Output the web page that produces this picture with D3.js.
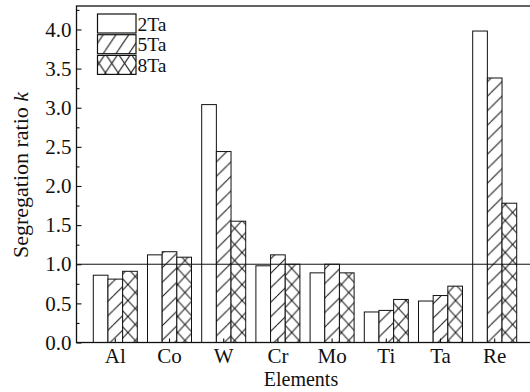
<!DOCTYPE html>
<html>
<head>
<meta charset="utf-8">
<script src="https://cdn.jsdelivr.net/npm/d3@7"></script>
<style>
    body { margin: 0; background: #fff; }
    svg { display: block; }
    svg text { font-family: "Liberation Serif", "DejaVu Serif", serif !important; fill: #111; }
</style>
</head>
<body>
<div id="graphic"></div>
<script>
// Chart data
var elements = ['Al', 'Co', 'W', 'Cr', 'Mo', 'Ti', 'Ta', 'Re'];
var seriesNames = ['2Ta', '5Ta', '8Ta'];
var ta2 = [0.86, 1.12, 3.04, 0.98, 0.89, 0.39, 0.53, 3.98];
var ta5 = [0.81, 1.16, 2.44, 1.12, 1.00, 0.41, 0.60, 3.38];
var ta8 = [0.91, 1.09, 1.55, 1.00, 0.89, 0.55, 0.72, 1.78];
var yTicks = [0, 0.5, 1, 1.5, 2, 2.5, 3, 3.5, 4];

var WIDTH = 530, HEIGHT = 392;
var FONT = '"Liberation Serif", "DejaVu Serif", serif';

/*
 * Render the graphic.
 */
var renderGraphic = function(config) {
    var margins = {
        top: 6,
        right: -4,
        bottom: 49.5,
        left: 76.5
    };

    var chartWidth = config['width'] - margins['left'] - margins['right'];
    var chartHeight = config['height'] - margins['top'] - margins['bottom'];

    var containerElement = d3.select(config['container']);
    containerElement.html('');

    var svg = containerElement.append('svg')
        .attr('width', config['width'])
        .attr('height', config['height'])
        .style('font-family', FONT);

    var defs = svg.append('defs');

    var chartElement = svg.append('g')
        .attr('transform', 'translate(' + margins['left'] + ',' + margins['top'] + ')');

    var rows = elements.map(function(el, i) {
        return { name: el, values: [ta2[i], ta5[i], ta8[i]] };
    });

    // Scales
    var xScale = d3.scaleBand()
        .domain(elements)
        .range([11.7, 445.3])
        .paddingInner(0.188)
        .paddingOuter(0.094);

    var xSeries = d3.scaleBand()
        .domain(seriesNames)
        .range([0, xScale.bandwidth()]);

    var yScale = d3.scaleLinear()
        .domain([0, 4.3])
        .range([chartHeight, 0]);

    // Patterns: hatch "/" and cross "X", anchored to each bar
    var makePattern = function(id, kind, px, py, w, h) {
        var p = defs.append('pattern')
            .attr('id', id)
            .attr('patternUnits', 'userSpaceOnUse')
            .attr('x', px)
            .attr('y', py)
            .attr('width', w)
            .attr('height', h);
        p.append('rect').attr('width', w).attr('height', h).attr('fill', '#fff');
        var lines = [];
        if (kind == 'hatch') {
            lines = [[0, h, w, 0], [-w, h, 0, 0], [w, h, 2 * w, 0]];
        } else if (kind == 'cross') {
            lines = [[0, 0, w, h], [0, h, w, 0]];
        }
        p.selectAll('line')
            .data(lines)
            .enter().append('line')
            .attr('x1', function(d) { return d[0]; })
            .attr('y1', function(d) { return d[1]; })
            .attr('x2', function(d) { return d[2]; })
            .attr('y2', function(d) { return d[3]; })
            .attr('stroke', '#111')
            .attr('stroke-width', 1);
    };

    var kinds = ['none', 'hatch', 'cross'];

    // Bars
    var groups = chartElement.selectAll('.group')
        .data(rows)
        .enter().append('g')
        .attr('class', 'group')
        .attr('transform', function(d) { return 'translate(' + xScale(d.name) + ',0)'; });

    groups.selectAll('rect')
        .data(function(d) {
            return d.values.map(function(v, j) { return { el: d.name, s: j, value: v }; });
        })
        .enter().append('rect')
        .attr('x', function(d) { return xSeries(seriesNames[d.s]); })
        .attr('y', function(d) { return yScale(d.value); })
        .attr('width', xSeries.bandwidth())
        .attr('height', function(d) { return chartHeight - yScale(d.value); })
        .attr('stroke', '#111')
        .attr('stroke-width', 1)
        .attr('fill', function(d) {
            if (kinds[d.s] == 'none') { return '#fff'; }
            var id = 'pat-' + d.el + '-' + d.s;
            var bx = margins['left'] + xScale(d.el) + xSeries(seriesNames[d.s]);
            if (kinds[d.s] == 'hatch') {
                makePattern(id, 'hatch', bx, 0, xSeries.bandwidth(), 14.5);
            } else {
                makePattern(id, 'cross', bx, margins['top'] + chartHeight, xSeries.bandwidth(), 16);
            }
            return 'url(#' + id + ')';
        });

    // Reference line at k = 1
    chartElement.append('line')
        .attr('x1', 0)
        .attr('x2', chartWidth)
        .attr('y1', yScale(1))
        .attr('y2', yScale(1))
        .attr('stroke', '#111')
        .attr('stroke-width', 1);

    // Frame
    chartElement.append('rect')
        .attr('x', 0)
        .attr('y', 0)
        .attr('width', chartWidth)
        .attr('height', chartHeight)
        .attr('fill', 'none')
        .attr('stroke', '#111')
        .attr('stroke-width', 1.3);

    // Y axis (inward ticks)
    chartElement.append('g')
        .attr('class', 'y axis')
        .call(d3.axisLeft(yScale)
            .tickValues(yTicks)
            .tickFormat(d3.format('.1f'))
            .tickSizeInner(-5)
            .tickSizeOuter(0)
            .tickPadding(5));

    chartElement.append('g')
        .attr('class', 'y minor')
        .call(d3.axisLeft(yScale)
            .tickValues(d3.range(0.25, 4.3, 0.5))
            .tickFormat('')
            .tickSizeInner(-3)
            .tickSizeOuter(0));

    // X axis
    chartElement.append('g')
        .attr('class', 'x axis')
        .attr('transform', 'translate(0,' + chartHeight + ')')
        .call(d3.axisBottom(xScale)
            .tickSizeInner(-4)
            .tickSizeOuter(0)
            .tickPadding(6));

    svg.selectAll('.axis, .minor').attr('font-family', FONT);
    svg.selectAll('.axis path, .minor path').remove();
    svg.selectAll('.axis line, .minor line')
        .attr('stroke', '#111')
        .attr('stroke-width', 1.1);
    svg.selectAll('.axis text')
        .attr('font-size', '21px')
        .attr('fill', '#111');

    // Axis titles
    svg.append('text')
        .attr('x', 301)
        .attr('y', 386)
        .attr('text-anchor', 'middle')
        .attr('font-size', '20px')
        .text('Elements');

    var yTitle = svg.append('text')
        .attr('transform', 'translate(28,175) rotate(-90)')
        .attr('text-anchor', 'middle')
        .attr('font-size', '22px');
    yTitle.append('tspan').text('Segregation ratio ');
    yTitle.append('tspan').attr('font-style', 'italic').text('k');

    // Legend
    var legend = svg.append('g')
        .attr('class', 'legend')
        .attr('transform', 'translate(97.5,14)');

    var legendItems = legend.selectAll('.item')
        .data(seriesNames)
        .enter().append('g')
        .attr('class', 'item')
        .attr('transform', function(d, i) { return 'translate(0,' + (i * 20.7) + ')'; });

    legendItems.append('rect')
        .attr('width', 38.5)
        .attr('height', 19)
        .attr('stroke', '#111')
        .attr('stroke-width', 1.2)
        .attr('fill', function(d, i) {
            if (kinds[i] == 'none') { return '#fff'; }
            var id = 'leg-' + i;
            if (kinds[i] == 'hatch') {
                makePattern(id, 'hatch', 97.5, 14 + i * 20.7, 12.8, 19);
            } else {
                makePattern(id, 'cross', 97.5, 14 + i * 20.7, 12.8, 19);
            }
            return 'url(#' + id + ')';
        });

    legendItems.append('text')
        .attr('x', 40)
        .attr('y', 16.5)
        .attr('font-size', '19.5px')
        .text(function(d) { return d; });
}

renderGraphic({
    container: '#graphic',
    width: WIDTH,
    height: HEIGHT
});
</script>
</body>
</html>
